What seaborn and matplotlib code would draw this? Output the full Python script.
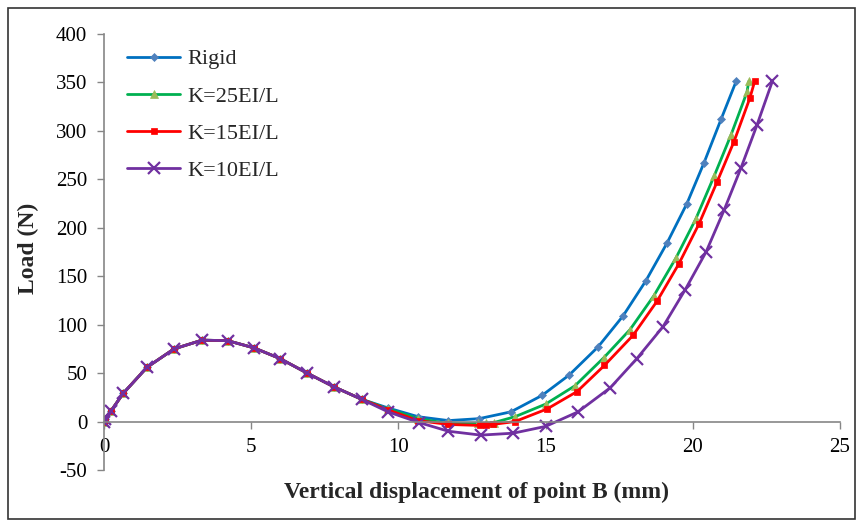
import matplotlib
matplotlib.use("Agg")
import matplotlib.pyplot as plt
import seaborn as sns
from matplotlib.patches import Rectangle

# common rising/falling branch (all four curves overlap here)
x_common = [0.0, 0.03, 0.23, 0.65, 1.46, 2.38, 3.33, 4.2, 5.1, 5.98, 6.9, 7.8, 8.75]
y_common = [0, 3, 10.6, 29, 56, 75, 84, 83.5, 76, 65, 50, 36, 23]

# Rigid
x_rigid = x_common + [9.65, 10.67, 11.7, 12.74, 13.82, 14.88, 15.8, 16.78, 17.63, 18.4, 19.12, 19.8, 20.38, 20.96, 21.47]
y_rigid = y_common + [14, 5, 1, 3, 10, 27, 48, 77, 109, 145, 184, 225, 267, 312, 351]

# K=25EI/L
x_k25 = x_common + [9.65, 10.67, 11.7, 12.7, 12.97, 13.25, 13.96, 15.0, 16.0, 16.98, 17.87, 18.68, 19.43, 20.1, 20.72, 21.3, 21.84, 21.9]
y_k25 = y_common + [13, 3, -2, -2, -2, -1, 5, 18, 37, 66, 95, 130, 169, 209, 253, 296, 340, 351]

# K=15EI/L
x_k15 = x_common + [9.65, 10.67, 11.7, 12.77, 12.98, 13.2, 13.96, 15.05, 16.07, 17.0, 17.97, 18.78, 19.53, 20.21, 20.82, 21.4, 21.94, 22.1]
y_k15 = y_common + [12, 1, -3, -4, -4, -3, 0, 13, 31, 58, 89, 124, 163, 204, 247, 289, 334, 351]

# K=10EI/L
x_k10 = x_common + [9.65, 10.7, 11.7, 12.8, 13.9, 15.0, 16.1, 17.2, 18.1, 18.99, 19.74, 20.45, 21.06, 21.64, 22.18, 22.7]
y_k10 = y_common + [10, -1, -10, -14, -12, -5, 10, 35, 65, 98, 136, 175, 218, 262, 306, 351]

x_ticks = [0, 5, 10, 15, 20, 25]
y_ticks = [-50, 0, 50, 100, 150, 200, 250, 300, 350, 400]

sns.set_style("white")
plt.rcParams['font.family'] = ['Liberation Serif', 'DejaVu Serif']
plt.rcParams['axes.unicode_minus'] = False

fig = plt.figure(figsize=(8.61, 5.24), dpi=100)
ax = fig.add_axes([104/861, 1 - 470/524, (840 - 104)/861, (470 - 34)/524])

gray = "#868686"
series = [
    (x_rigid, y_rigid, "Rigid", "#0070C0", "D", "#4F81BD", 4, 0.5),
    (x_k25, y_k25, "K=25EI/L", "#00B050", "^", "#9BBB59", 6, 0.5),
    (x_k15, y_k15, "K=15EI/L", "#FF0000", "s", "#FF0000", 5, 0.5),
    (x_k10, y_k10, "K=10EI/L", "#7030A0", "x", "#7030A0", 9, 1.6),
]
for xs, ys, lab, col, mk, mcol, ms, mew in series:
    sns.lineplot(x=xs, y=ys, ax=ax, sort=False, estimator=None, color=col, lw=2.0,
                 marker=mk, markersize=ms, markerfacecolor=mcol, markeredgecolor=mcol,
                 markeredgewidth=mew, label=lab)

ax.set_xlim(0, 25)
ax.set_ylim(-50, 400)
ax.set_xticks(x_ticks)
ax.set_yticks(y_ticks)
ax.tick_params(axis='both', labelsize=15, colors=gray, labelcolor='black',
               direction='out', length=5, width=1, pad=7)
ax.tick_params(axis='y', left=True)
ax.tick_params(axis='x', bottom=True)

for s in ["top", "right"]:
    ax.spines[s].set_visible(False)
ax.spines["bottom"].set_position(("data", 0))
for s in ["left", "bottom"]:
    ax.spines[s].set_color(gray)
    ax.spines[s].set_linewidth(1.2)

ax.set_xlabel("")
ax.set_ylabel("")
fig.text(477/861, 1 - 492/524, "Vertical displacement of point B (mm)", ha='center', va='center',
         fontsize=17, fontweight='bold')
fig.text(28/861, 1 - 248/524, "Load (N)", ha='center', va='center', rotation=90,
         fontsize=17, fontweight='bold')

ax.legend(loc='upper left', bbox_to_anchor=(118/861, 1 - 40/524), bbox_transform=fig.transFigure,
          frameon=False, fontsize=16, handlelength=2.4, handletextpad=0.3, labelspacing=0.75,
          borderaxespad=0)

fig.add_artist(Rectangle((8/861, 1 - 519/524), (855 - 8)/861, (519 - 8)/524,
                         transform=fig.transFigure, fill=False, edgecolor='#333333', lw=1.2))

fig.savefig("out.png", dpi=100)
